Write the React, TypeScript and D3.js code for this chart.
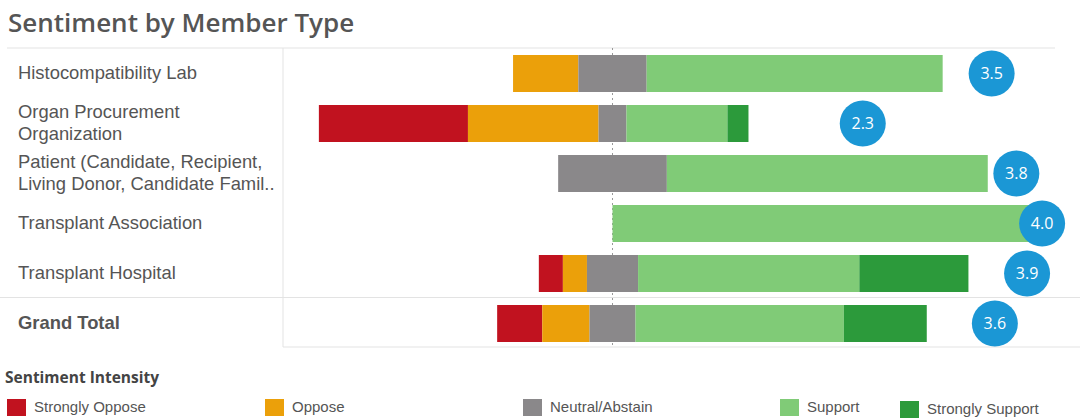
import React from "react";
import * as d3 from "d3";

const categories = [
  ["Histocompatibility Lab"],
  ["Organ Procurement", "Organization"],
  ["Patient (Candidate, Recipient,", "Living Donor, Candidate Famil.."],
  ["Transplant Association"],
  ["Transplant Hospital"],
  ["Grand Total"],
];
const sentiments = ["Strongly Oppose", "Oppose", "Neutral/Abstain", "Support", "Strongly Support"];
const colors = ["#c1121f", "#eba00a", "#8a888a", "#80cb77", "#2c9a3b"];
const stronglyOppose = [0, 34.7, 0, 0, 5.6, 10.5];
const oppose = [15.2, 30.4, 0, 0, 5.6, 11.0];
const neutral = [15.9, 6.5, 25.3, 0, 11.9, 10.7];
const support = [68.9, 23.5, 74.7, 100, 51.5, 48.5];
const stronglySupport = [0, 4.9, 0, 0, 25.4, 19.3];
const scores = [3.53, 2.33, 3.76, 4.0, 3.86, 3.56];

const W = 1091, H = 418;
const paneLeft = 283, paneRight = 1055, paneTop = 48, paneBottom = 347;

export default function App() {
  const x = d3.scaleLinear().domain([-76.7, 103]).range([paneLeft, paneRight]);
  const y = d3.scaleBand<number>().domain(d3.range(categories.length)).range([paneTop + 0.5, paneTop + 300.5]).paddingInner(0.26).paddingOuter(0.13);
  const scoreX = d3.scaleLinear().domain([0, 4]).range([x(0), x(100)]);
  const series = [stronglyOppose, oppose, neutral, support, stronglySupport];

  const rows = categories.map((_, i) => {
    const vals = series.map((s) => s[i]);
    let start = -(vals[0] + vals[1] + vals[2] / 2);
    return vals.map((v, k) => {
      const seg = { k, x0: start, x1: start + v };
      start += v;
      return seg;
    });
  });

  const labelFont = "'Liberation Sans', Arial, sans-serif";
  const headFont = "'Open Sans', 'DejaVu Sans', sans-serif";
  const legendX = [7, 265, 523, 780, 900];
  const legendY = [399, 399, 399, 399, 401];

  return (
    <svg width={W} height={H} style={{ position: "absolute", left: 0, top: 0, background: "#fff" }}>
      <text x={8} y={32} fontFamily={headFont} fontWeight={600} fontSize={26} fill="#555">Sentiment by Member Type</text>
      <line x1={7} x2={paneRight} y1={paneTop} y2={paneTop} stroke="#e3e3e3" />
      <line x1={paneLeft} x2={paneLeft} y1={paneTop} y2={paneBottom} stroke="#e3e3e3" />
      <line x1={0} x2={1080} y1={297.5} y2={297.5} stroke="#e3e3e3" />
      <line x1={paneLeft} x2={1080} y1={paneBottom} y2={paneBottom} stroke="#e3e3e3" />
      <line x1={x(0)} x2={x(0)} y1={paneTop} y2={paneBottom} stroke="#999" strokeDasharray="2,3" />
      {rows.map((segs, i) =>
        segs.filter((s) => s.x1 > s.x0).map((s) => (
          <rect key={i + "-" + s.k} x={x(s.x0)} y={y(i)} width={x(s.x1) - x(s.x0)} height={y.bandwidth()} fill={colors[s.k]} />
        ))
      )}
      {scores.map((sc, i) => (
        <g key={"b" + i}>
          <circle cx={scoreX(sc)} cy={(y(i) as number) + y.bandwidth() / 2} r={23} fill="#1b97d5" />
          <text x={scoreX(sc)} y={(y(i) as number) + y.bandwidth() / 2 + 5.5} textAnchor="middle" fontFamily={headFont} fontSize={16} fill="#fff">{sc.toFixed(1)}</text>
        </g>
      ))}
      {categories.map((lines, i) => {
        const cy = (y(i) as number) + y.bandwidth() / 2;
        const lh = 22;
        const first = cy + 5 - ((lines.length - 1) * lh) / 2;
        return (
          <text key={"l" + i} x={18} fontFamily={labelFont} fontSize={18.4} fill="#555" fontWeight={i === categories.length - 1 ? "bold" : "normal"}>
            {lines.map((t, j) => (
              <tspan key={j} x={18} y={first + j * lh}>{t}</tspan>
            ))}
          </text>
        );
      })}
      <text x={5} y={383} fontFamily={headFont} fontWeight={700} fontSize={15.5} fill="#444">Sentiment Intensity</text>
      {sentiments.map((s, k) => (
        <g key={"lg" + k}>
          <rect x={legendX[k]} y={legendY[k]} width={19} height={17} fill={colors[k]} />
          <text x={legendX[k] + 27} y={legendY[k] + 13} fontFamily={labelFont} fontSize={15} fill="#555">{s}</text>
        </g>
      ))}
    </svg>
  );
}
